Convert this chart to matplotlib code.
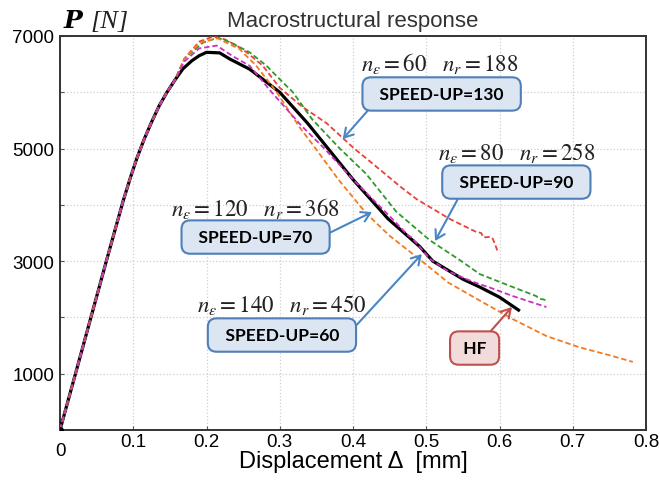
import matplotlib
matplotlib.use("Agg")
from matplotlib import pyplot as plt

plt.rcParams['font.family'] = ['Liberation Sans', 'DejaVu Sans']
plt.rcParams['mathtext.fontset'] = 'stix'

# common elastic branch (all models coincide here)
rise_x = [0, 0.03, 0.064, 0.086, 0.096, 0.105, 0.115, 0.125, 0.135, 0.146, 0.157]
rise_p = [0, 1420, 3035, 4060, 4480, 4830, 5170, 5470, 5750, 6000, 6220]

# HF reference solution
hf_x = [0.168, 0.18, 0.19, 0.20, 0.218, 0.232, 0.259, 0.282, 0.300, 0.338, 0.366,
        0.40, 0.448, 0.491, 0.509, 0.55, 0.573, 0.60, 0.626]
hf_p = [6420, 6560, 6650, 6710, 6700, 6590, 6410, 6180, 6000, 5450, 5000,
        4450, 3750, 3260, 3000, 2680, 2540, 2360, 2130]

# n_eps=60, n_r=188
red_x = [0.17, 0.19, 0.209, 0.225, 0.241, 0.255, 0.277, 0.30, 0.33, 0.364, 0.40,
         0.441, 0.464, 0.487, 0.532, 0.568, 0.575, 0.578, 0.585, 0.59, 0.593, 0.597]
red_p = [6600, 6900, 6990, 6940, 6830, 6710, 6470, 6080, 5750, 5450, 5020,
         4580, 4330, 4100, 3750, 3520, 3500, 3420, 3430, 3420, 3330, 3190]

# n_eps=80, n_r=258
green_x = [0.17, 0.195, 0.215, 0.232, 0.259, 0.282, 0.304, 0.318, 0.344, 0.382,
           0.418, 0.459, 0.505, 0.548, 0.573, 0.618, 0.65, 0.655, 0.66, 0.666]
green_p = [6600, 6880, 6970, 6890, 6710, 6470, 6180, 6000, 5524, 5000,
           4550, 3880, 3370, 3000, 2770, 2540, 2380, 2330, 2320, 2290]

# n_eps=120, n_r=368
orange_x = [0.17, 0.19, 0.215, 0.232, 0.245, 0.268, 0.296, 0.327, 0.349, 0.38,
            0.418, 0.45, 0.494, 0.53, 0.573, 0.618, 0.664, 0.709, 0.754, 0.782]
orange_p = [6600, 6880, 6960, 6850, 6770, 6470, 6000, 5380, 5000, 4450,
            3850, 3450, 3000, 2620, 2300, 1970, 1670, 1470, 1315, 1210]

# n_eps=140, n_r=450
mag_x = [0.17, 0.19, 0.214, 0.236, 0.259, 0.289, 0.304, 0.33, 0.361, 0.40, 0.45,
         0.475, 0.48, 0.505, 0.53, 0.555, 0.573, 0.587, 0.618, 0.664]
mag_p = [6550, 6780, 6830, 6640, 6470, 6000, 5780, 5400, 5000, 4450, 3800,
         3460, 3420, 3040, 2820, 2680, 2590, 2530, 2380, 2185]

fig = plt.figure(figsize=(6.6, 4.81), dpi=100)
ax = fig.add_axes([60 / 660, 50 / 481, 586 / 660, 394 / 481])

dash = (3, 1.6)
ax.plot(rise_x + hf_x, rise_p + hf_p, color='black', lw=2.3, zorder=3)
ax.plot(rise_x + red_x, rise_p + red_p, color='#e8413a', lw=1.3, dashes=dash, zorder=4)
ax.plot(rise_x + green_x, rise_p + green_p, color='#2f9a2a', lw=1.3, dashes=dash, zorder=4)
ax.plot(rise_x + orange_x, rise_p + orange_p, color='#f47a20', lw=1.3, dashes=dash, zorder=4)
ax.plot(rise_x + mag_x, rise_p + mag_p, color='#cc2fbf', lw=1.3, dashes=dash, zorder=5)
ax.plot([0], [0], 'o', color='black', ms=4, zorder=6)

ax.set_xlim(0, 0.8)
ax.set_ylim(0, 7000)
ax.set_xticks([0.1 * i for i in range(9)])
ax.set_xticklabels(['', '0.1', '0.2', '0.3', '0.4', '0.5', '0.6', '0.7', '0.8'])
ax.set_yticks(range(0, 7001, 1000))
ax.set_yticklabels(['', '1000', '', '3000', '', '5000', '', '7000'])
ax.tick_params(labelsize=13.5, direction='in', length=3, pad=2, colors='#555555',
               labelcolor='black')
ax.tick_params(axis='y', pad=4)
ax.annotate('0', xy=(0, 0), xytext=(0, -9), textcoords='offset points',
            ha='center', va='top', fontsize=13.5, annotation_clip=False)
ax.grid(True, color='#cfcfcf', ls=':', lw=0.9)
for s in ax.spines.values():
    s.set_color('#333333')
    s.set_linewidth(1.4)

ax.set_xlabel('Displacement \u0394  [mm]', fontsize=17, labelpad=0)
ax.set_title('Macrostructural response', fontsize=16, color='#333333', pad=7)
fig.text(64 / 660, 1 - 28 / 481, 'P', fontsize=18, family='DejaVu Serif',
         weight='bold', style='italic')
fig.text(90 / 660, 1 - 28 / 481, '[N]', fontsize=19, family='Liberation Serif',
         style='italic', color='#222222')

# annotation boxes
blue_box = dict(boxstyle='round,pad=0.5,rounding_size=0.5', fc='#dce6f2',
                ec='#4f7fb8', lw=1.5)
red_box = dict(boxstyle='round,pad=0.5,rounding_size=0.5', fc='#f2dcdb',
               ec='#c0504d', lw=1.5)

boxes = [
    ('SPEED-UP=130', (0.386, 5169), (0.521, 5970), (0.03, 0.0)),
    ('SPEED-UP=90', (0.512, 3357), (0.623, 4405), (0.09, 0.0)),
    ('SPEED-UP=70', (0.426, 3872), (0.267, 3428), (1.0, 0.5)),
    ('SPEED-UP=60', (0.494, 3126), (0.303, 1687), (1.0, 0.5)),
]
for txt, tip, ctr, rp in boxes:
    ax.annotate('  ' + txt + '  ', xy=tip, xytext=ctr, ha='center', va='center',
                fontsize=12.5, family='Lato', weight='bold', bbox=blue_box, zorder=7,
                arrowprops=dict(arrowstyle='->,head_length=0.5,head_width=0.3',
                                color='#4a86c5', lw=1.5, relpos=rp,
                                shrinkA=0, shrinkB=0))
ax.annotate(' HF ', xy=(0.617, 2185), xytext=(0.566, 1456), ha='center', va='center',
            fontsize=12.5, family='Lato', weight='bold', bbox=red_box, zorder=7,
            arrowprops=dict(arrowstyle='->,head_length=0.5,head_width=0.3',
                            color='#c0504d', lw=1.5, relpos=(0.76, 1.0),
                            shrinkA=0, shrinkB=0))

labels = [
    (r'$n_{\varepsilon}=60\quad n_r=188$', (0.518, 6536)),
    (r'$n_{\varepsilon}=80\quad n_r=258$', (0.623, 4938)),
    (r'$n_{\varepsilon}=120\quad n_r=368$', (0.267, 3961)),
    (r'$n_{\varepsilon}=140\quad n_r=450$', (0.303, 2238)),
]
for txt, pos in labels:
    ax.text(pos[0], pos[1], txt, ha='center', va='center', fontsize=16.5,
            color='#222222', zorder=7)

fig.savefig('out.png', dpi=100)
